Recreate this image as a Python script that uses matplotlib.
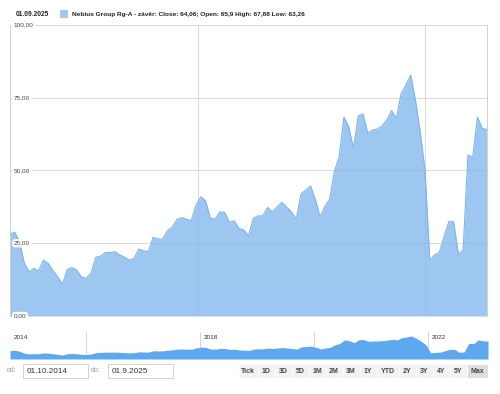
import matplotlib
matplotlib.use("Agg")
import matplotlib.pyplot as plt
from matplotlib.patches import Rectangle

plt.rcParams['font.family'] = ['Liberation Sans', 'DejaVu Sans']

# ---- data (monthly closes) ----
values = [28.2, 28.8, 25.5, 18.1, 15.2, 16.4, 15.5, 19.2, 18.1, 15.6,
          13.5, 10.9, 16.0, 16.6, 15.8, 13.3, 13.0, 14.7, 20.2, 20.6,
          21.8, 21.8, 22.1, 21.0, 20.2, 19.2, 19.8, 23.0, 22.4, 22.1,
          27.0, 26.5, 26.4, 29.3, 30.5, 33.2, 33.8, 33.2, 32.8, 38.1,
          41.0, 39.6, 33.6, 33.3, 35.8, 35.6, 32.2, 32.7, 30.1, 29.6,
          27.6, 33.6, 34.4, 34.4, 37.3, 35.8, 37.5, 39.1, 37.4, 35.8,
          33.3, 41.9, 43.3, 44.7, 40.1, 34.1, 37.6, 40.1, 49.6, 54.7,
          68.3, 65.1, 57.6, 68.8, 69.4, 62.8, 63.9, 64.2, 65.3, 67.4,
          70.6, 67.9, 76.5, 79.4, 82.8, 74.2, 63.3, 50.2, 19.2, 21.0,
          21.8, 27.3, 32.4, 32.4, 21.3, 22.7, 55.3, 54.5, 68.3,
          64.5, 64.06]

y_ticks = [0, 25, 50, 75, 100]
y_tick_labels = ["0,00", "25,00", "50,00", "75,00", "100,00"]
year_labels = ["2018", "2022"]
nav_labels = ["2014", "2018", "2022"]
buttons = ["Tick", "1D", "3D", "5D", "1M", "2M", "3M", "1Y", "YTD", "2Y", "3Y", "4Y", "5Y", "Max"]
header_date = "01.09.2025"
legend_text = "Nebius Group Rg-A - závěr: Close: 64,06; Open: 65,9 High: 67,88 Low: 63,26"
date_from = "01.10.2014"
date_to = "01.9.2025"

W, H = 500, 394
fig = plt.figure(figsize=(5, 3.94), dpi=100)

def px_axes(x0, y0, x1, y1):
    return fig.add_axes([x0 / W, 1 - y1 / H, (x1 - x0) / W, (y1 - y0) / H])

n = len(values)
xs = list(range(n))
span = n - 1
# layout positions of year lines (fraction of width)
year_frac = [(198 - 10) / 477, (425 - 10) / 477]
nav_line_frac = [(86 - 10) / 478, (200 - 10) / 478, (314 - 10) / 478, (428 - 10) / 478]
nav_label_frac = [0.0, (200 - 10) / 478, (428 - 10) / 478]

# ---- overlay for header and controls ----
ov = fig.add_axes([0, 0, 1, 1])
ov.set_xlim(0, W)
ov.set_ylim(H, 0)
ov.axis('off')

ov.text(16, 14, header_date, fontsize=4.8, fontweight='bold', color='#222222', va='center')
ov.add_patch(Rectangle((60, 10), 8, 8, facecolor='#9dc8f1', edgecolor='none'))
ov.text(72, 14, legend_text, fontsize=4.65, fontweight='bold', color='#222222', va='center')

# date inputs
ov.text(7, 371, "od:", fontsize=5, color='#999999', va='center')
ov.add_patch(Rectangle((23, 364), 65, 14, facecolor='white', edgecolor='#cccccc', lw=0.6))
ov.text(27, 371.5, date_from, fontsize=5.9, color='#333333', va='center')
ov.text(91, 371, "do:", fontsize=5, color='#999999', va='center')
ov.add_patch(Rectangle((108, 364), 65, 14, facecolor='white', edgecolor='#cccccc', lw=0.6))
ov.text(112, 371.5, date_to, fontsize=5.9, color='#333333', va='center')

# range buttons
bx = 238.5
for b in buttons:
    w = 19 if b == "Tick" else (22 if b == "YTD" else (21 if b == "Max" else 17))
    fc = '#dedede' if b == "Max" else '#f2f2f2'
    ov.add_patch(Rectangle((bx, 364), w, 14, facecolor=fc, edgecolor='white', lw=0.6))
    ov.text(bx + w / 2, 371.3, b, fontsize=5, fontweight='bold', color='#444444',
            ha='center', va='center')
    bx += w

# ---- main chart ----
ax = px_axes(10, 25, 487, 316)
ax.set_xlim(0, span)
ax.set_ylim(0, 100)
for yt in y_ticks[1:]:
    ax.axhline(yt, color='#d9d9d9', lw=0.7, zorder=1)
for f in year_frac:
    ax.axvline(f * span, color='#d9d9d9', lw=0.7, zorder=1)
ax.fill_between(xs, values, 0, color='#7cb5ec', alpha=0.75, lw=0, zorder=2)
ax.plot(xs, values, color='#7cb5ec', lw=0.8, zorder=3)
for yt, lab in zip(y_ticks, y_tick_labels):
    ax.text(0.008, yt, lab, transform=ax.get_yaxis_transform(), fontsize=4.6,
            color='#444444', ha='left', va='center', zorder=5,
            bbox=dict(boxstyle='round,pad=0.25,rounding_size=0.4', fc='white', ec='none'))
ax.set_xticks([])
ax.set_yticks([])
for s in ['top', 'bottom']:
    ax.spines[s].set_visible(False)
for s in ['left', 'right']:
    ax.spines[s].set_color('#d0d0d0')
    ax.spines[s].set_linewidth(0.7)
ax.patch.set_alpha(0)

# ---- navigator ----
nav = px_axes(10, 332, 488, 359)
nav.set_xlim(0, span)
nav.set_ylim(-4, 98)
nav.fill_between(xs, values, -4, color='#5da8ee', lw=0, zorder=2)
for f in nav_line_frac:
    nav.axvline(f * span, color='#cfcfcf', lw=0.6, zorder=1)
for f, lab in zip(nav_label_frac, nav_labels):
    nav.text(f * span + 0.8, 88, lab, fontsize=4.6, color='#333333', ha='left', va='top', zorder=3)
nav.set_xticks([])
nav.set_yticks([])
for s in nav.spines.values():
    s.set_visible(False)
nav.patch.set_alpha(0)

fig.savefig("out.png", dpi=100)
